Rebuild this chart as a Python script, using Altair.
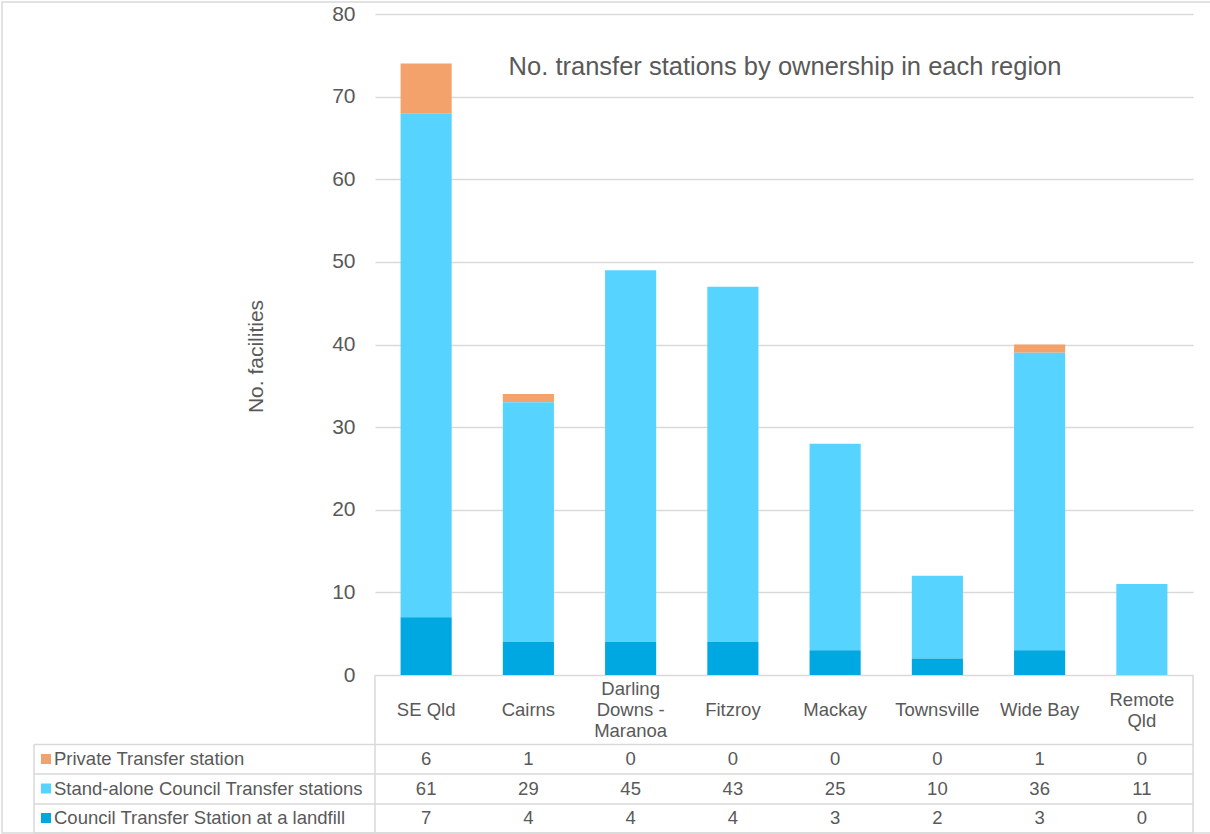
import altair as alt
import pandas as pd

# Regions (x categories) and the labels shown in the table header
regions = ["SE Qld", "Cairns", "Darling Downs - Maranoa", "Fitzroy", "Mackay",
           "Townsville", "Wide Bay", "Remote Qld"]
region_labels = ["SE Qld", "Cairns", "Darling\nDowns -\nMaranoa", "Fitzroy", "Mackay",
                 "Townsville", "Wide Bay", "Remote\nQld"]

# Series, listed in table order (top row first)
series = ["Private Transfer station",
          "Stand-alone Council Transfer stations",
          "Council Transfer Station at a landfill"]
private_ts = [6, 1, 0, 0, 0, 0, 1, 0]
standalone_ts = [61, 29, 45, 43, 25, 10, 36, 11]
landfill_ts = [7, 4, 4, 4, 3, 2, 3, 0]
series_colors = ["#F4A26C", "#57D3FF", "#00A8E2"]

rows = []
for s_idx, (name, vals) in enumerate(zip(series, [private_ts, standalone_ts, landfill_ts])):
    for region, v in zip(regions, vals):
        rows.append({"region": region, "series": name, "value": v,
                     "stack": len(series) - 1 - s_idx})
df = pd.DataFrame(rows)
labels_df = pd.DataFrame({"region": regions, "label": region_labels})
series_df = pd.DataFrame({"series": series})
one = pd.DataFrame({"k": [0]})

W, H = 818, 661
GREY = "#595959"
LINE = "#D9D9D9"
FONT = "Liberation Sans"
TXT = 18.5
LINE_H = 21

x_enc = alt.X("region:N", sort=regions,
              scale=alt.Scale(domain=regions, paddingInner=0.5, paddingOuter=0.25),
              axis=None)
color_enc = alt.Color("series:N", scale=alt.Scale(domain=series, range=series_colors),
                      legend=None)
row_y = alt.Y("series:N", scale=alt.Scale(type="point", domain=series, range=[745, 804], padding=0),
              axis=None)

bars = alt.Chart(df[df["value"] > 0]).mark_bar().encode(
    x=x_enc,
    y=alt.Y("value:Q", stack="zero",
            scale=alt.Scale(domain=[0, 80], nice=False),
            axis=alt.Axis(values=list(range(0, 81, 10)), grid=True, gridColor=LINE,
                          gridWidth=1.5, domain=False, ticks=False, labelFontSize=21,
                          labelColor=GREY, labelPadding=20, title="No. facilities",
                          titleFontSize=21, titleFontWeight="normal", titleColor=GREY,
                          titleX=-119, titleY=342, titleAngle=-90,
                          titleAlign="center", titleBaseline="middle")),
    color=color_enc,
    order=alt.Order("stack:Q"),
)

title = alt.Chart(one).mark_text(fontSize=25.5, color=GREY, baseline="middle").encode(
    x=alt.value(410), y=alt.value(53),
    text=alt.value("No. transfer stations by ownership in each region"))

# header labels: multi-line labels are centred vertically on the header row
header = alt.Chart(labels_df).transform_calculate(
    ypos=f"696 - (length(split(datum.label, '\\n')) - 1) * {LINE_H / 2}"
).mark_text(
    fontSize=TXT, color=GREY, lineBreak="\n", baseline="middle", lineHeight=LINE_H
).encode(x=x_enc, y=alt.Y("ypos:Q", scale=None, axis=None), text="label:N")

cells = alt.Chart(df).mark_text(fontSize=TXT, color=GREY, baseline="middle").encode(
    x=x_enc, y=row_y, text="value:Q")

row_names = alt.Chart(series_df).mark_text(
    fontSize=TXT, color=GREY, align="left", baseline="middle"
).encode(x=alt.value(-321), y=row_y, text="series:N")

swatches = alt.Chart(series_df).mark_square(size=100, opacity=1).encode(
    x=alt.value(-329), y=row_y, color=color_enc)


def hline(y, x1, x2):
    return alt.Chart(one).mark_rule(color=LINE, strokeWidth=1.5).encode(
        y=alt.value(y), x=alt.value(x1), x2=alt.value(x2))


def vline(x, y1, y2):
    return alt.Chart(one).mark_rule(color=LINE, strokeWidth=1.5).encode(
        x=alt.value(x), y=alt.value(y1), y2=alt.value(y2))


grid_lines = [
    hline(730.5, -341, W), hline(760, -341, W), hline(790, -341, W), hline(819, -341, W),
    vline(0, H, 819), vline(W, H, 819), vline(-341, 730.5, 819),
]

border = alt.Chart(one).mark_rect(fill="white", fillOpacity=0, stroke=LINE, strokeWidth=1.5).encode(
    x=alt.value(-373), x2=alt.value(845), y=alt.value(-12), y2=alt.value(819))

chart = alt.layer(
    border, bars, title, header, cells, row_names, swatches, *grid_lines
).resolve_scale(y="independent").properties(
    width=W, height=H,
    autosize=alt.AutoSizeParams(type="none"),
    padding={"left": 375, "top": 14, "right": 17, "bottom": 159},
).configure(font=FONT).configure_view(stroke=None)

chart.save("out.html", embed_options={"renderer": "svg", "actions": False})
